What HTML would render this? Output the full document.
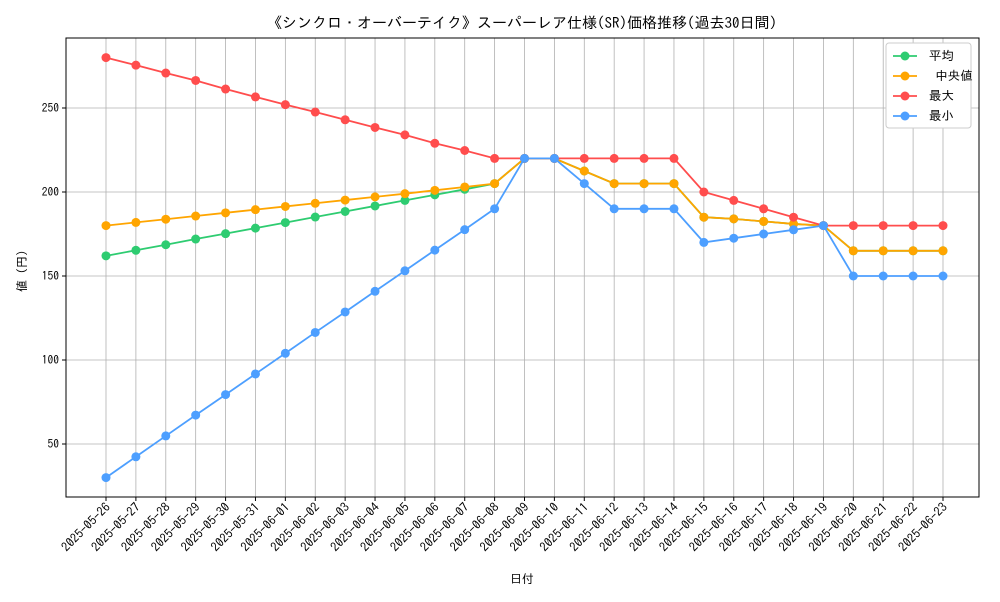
<!DOCTYPE html>
<html><head><meta charset="utf-8"><style>
body{margin:0;background:#fff;font-family:"IPAGothic","Noto Sans CJK JP",sans-serif;}
svg text{font-family:"IPAGothic","Noto Sans CJK JP",sans-serif;fill:#000;}
</style></head><body>
<svg id="chart" width="1000" height="600" xmlns="http://www.w3.org/2000/svg">
<rect width="1000" height="600" fill="#fff"/>
<text x="522" y="28" text-anchor="middle" font-size="15">《シンクロ・オーバーテイク》スーパーレア仕様(SR)価格推移(過去30日間)</text>
<g id="grid"></g><g id="axes"></g><g id="series"></g>
<rect x="66" y="38" width="913" height="459" fill="none" stroke="#000" stroke-width="1"/>
<text x="522" y="583" text-anchor="middle" font-size="12">日付</text>
<text transform="translate(26,268) rotate(-90)" text-anchor="middle" font-size="12">値（円）</text>
<g id="legend"></g>
</svg>
<script>
const dates=["2025-05-26","2025-05-27","2025-05-28","2025-05-29","2025-05-30","2025-05-31","2025-06-01","2025-06-02","2025-06-03","2025-06-04","2025-06-05","2025-06-06","2025-06-07","2025-06-08","2025-06-09","2025-06-10","2025-06-11","2025-06-12","2025-06-13","2025-06-14","2025-06-15","2025-06-16","2025-06-17","2025-06-18","2025-06-19","2025-06-20","2025-06-21","2025-06-22","2025-06-23"];
const meanVals=[162,165.3,168.6,172,175.2,178.5,181.8,185.1,188.4,191.7,195,198.3,201.6,205,220,220,212.5,205,205,205,185,184,182.5,181,180,165,165,165,165];
const medianVals=[180,181.9,183.8,185.7,187.6,189.5,191.4,193.3,195.2,197.1,199,201,203,205,220,220,212.5,205,205,205,185,184,182.5,181,180,165,165,165,165];
const maxVals=[280,275.5,270.8,266.4,261.3,256.6,252,247.6,243,238.4,234,229,224.7,220,220,220,220,220,220,220,200,195,190,185,180,180,180,180,180];
const minVals=[30,42.4,54.8,67.2,79.4,91.7,104,116.4,128.6,140.9,153.1,165.4,177.6,190,220,220,205,190,190,190,170,172.5,175,177.5,180,150,150,150,150];
const yTicks=[50,100,150,200,250];
const seriesNames=["平均","\u00a0中央値","最大","最小"];
const NS="http://www.w3.org/2000/svg";
const X=i=>106+i*(943-106)/(dates.length-1);
const Y=v=>528-v*1.68;
function mk(t,a,p){const e=document.createElementNS(NS,t);for(const k in a)e.setAttribute(k,a[k]);p.appendChild(e);return e;}
const grid=document.getElementById('grid'),axes=document.getElementById('axes');
dates.forEach((d,i)=>{const x=X(i);
 const g=mk('line',{x1:x,x2:x,y1:38,y2:497,stroke:'#b0b0b0','stroke-width':0.8},grid);
 
 
 const tk=mk('line',{x1:x,x2:x,y1:497,y2:501,stroke:'#000'},axes);
 
 
 const t=mk('text',{x:0,y:0,'font-size':12.5,'text-anchor':'end',transform:`translate(${x+5},${508}) rotate(-45)`},axes);
 t.textContent=d;
 
 
});
yTicks.forEach(v=>{const y=Y(v);
 const g=mk('line',{x1:66,x2:979,y1:y,y2:y,stroke:'#b0b0b0','stroke-width':0.8},grid);
 
 
 const tk=mk('line',{x1:62,x2:66,y1:y,y2:y,stroke:'#000'},axes);
 
 
 const t=mk('text',{x:59,y:y+4,'font-size':11.5,'text-anchor':'end'},axes);
 t.textContent=v;
 
 
});
const all=[[meanVals,'#2ecc71','mean'],[medianVals,'#ffa500','median'],[maxVals,'#ff4d4d','max'],[minVals,'#4d9fff','min']];
const sg=document.getElementById('series'),lg=document.getElementById('legend');
const box=mk('rect',{x:886,y:43,width:85,height:85,fill:'#fff',stroke:'#ccc',rx:3},lg);


all.forEach(([vals,c,n],k)=>{
 const pl=mk('polyline',{points:vals.map((v,i)=>X(i)+','+Y(v)).join(' '),fill:'none',stroke:c,'stroke-width':1.8},sg);
 
 
 vals.forEach((v,i)=>{const p=mk('circle',{cx:X(i),cy:Y(v),r:4.5,fill:c},sg);
  
  });
 const ly=56+k*20;
 const ll=mk('line',{x1:893,x2:917,y1:ly,y2:ly,stroke:c,'stroke-width':1.8},lg);
 
 
 const lc=mk('circle',{cx:905,cy:ly,r:4.5,fill:c},lg);
 
 
 const lt=mk('text',{x:929,y:ly+4,'font-size':12.5},lg);
 lt.textContent=seriesNames[k];
 
 
});
</script>
</body></html>
